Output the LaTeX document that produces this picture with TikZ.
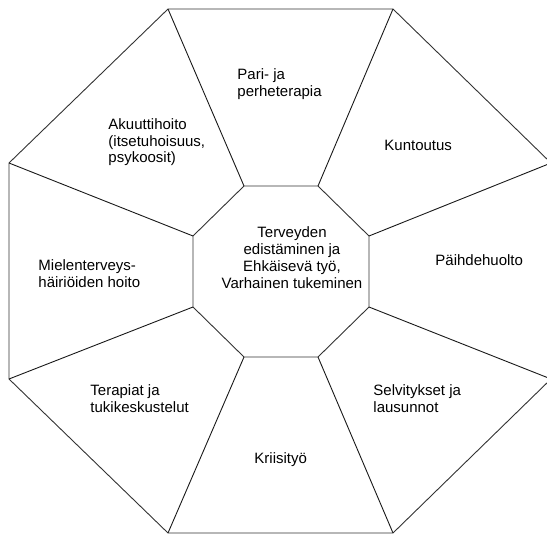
\documentclass[tikz,border=0pt]{standalone}
\usepackage{fontspec}
\setmainfont{Liberation Sans}
\begin{document}
\begin{tikzpicture}[x=1pt,y=-1pt,font=\fontsize{15}{17}\selectfont,line width=0.9pt]
  \clip (0,0) rectangle (547,535);
  % outer octagon
  \coordinate (o1) at (168,9);
  \coordinate (o2) at (393,9);
  \coordinate (o3) at (551,163);
  \coordinate (o4) at (551,379);
  \coordinate (o5) at (393,533);
  \coordinate (o6) at (168,533);
  \coordinate (o7) at (9,379);
  \coordinate (o8) at (9,163);
  % inner octagon
  \coordinate (i1) at (244,186);
  \coordinate (i2) at (318,186);
  \coordinate (i3) at (369,236);
  \coordinate (i4) at (369,307);
  \coordinate (i5) at (318,357);
  \coordinate (i6) at (244,357);
  \coordinate (i7) at (193,307);
  \coordinate (i8) at (193,236);
  \draw[black!80] (o1) -- (o2) -- (o3) -- (o4) -- (o5) -- (o6) -- (o7) -- (o8) -- cycle;
  \draw[black!80] (i1) -- (i2) -- (i3) -- (i4) -- (i5) -- (i6) -- (i7) -- (i8) -- cycle;
  \foreach \k in {1,...,8}
    \draw[black!90] (o\k) -- (i\k);
  % labels (base = last line)
  \node[anchor=base,align=center,inner sep=0] (center) at (292,288) {Terveyden\\edistäminen ja\\Ehkäisevä työ,\\Varhainen tukeminen};
  \node[anchor=base west,align=left,inner sep=0] (pari) at (237,96) {Pari- ja\\perheterapia};
  \node[anchor=base west,inner sep=0] (kuntoutus) at (384,150) {Kuntoutus};
  \node[anchor=base west,inner sep=0] (paihde) at (435,265) {Päihdehuolto};
  \node[anchor=base west,align=left,inner sep=0] (selvitys) at (373,412) {Selvitykset ja\\lausunnot};
  \node[anchor=base west,inner sep=0] (kriisi) at (254,463) {Kriisityö};
  \node[anchor=base west,align=left,inner sep=0] (terapiat) at (90,412) {Terapiat ja\\tukikeskustelut};
  \node[anchor=base west,align=left,inner sep=0] (mieli) at (38,287) {Mielenterveys-\\häiriöiden hoito};
  \node[anchor=base west,align=left,inner sep=0] (akuutti) at (108,163) {Akuuttihoito\\(itsetuhoisuus,\\psykoosit)};
\end{tikzpicture}
\end{document}
